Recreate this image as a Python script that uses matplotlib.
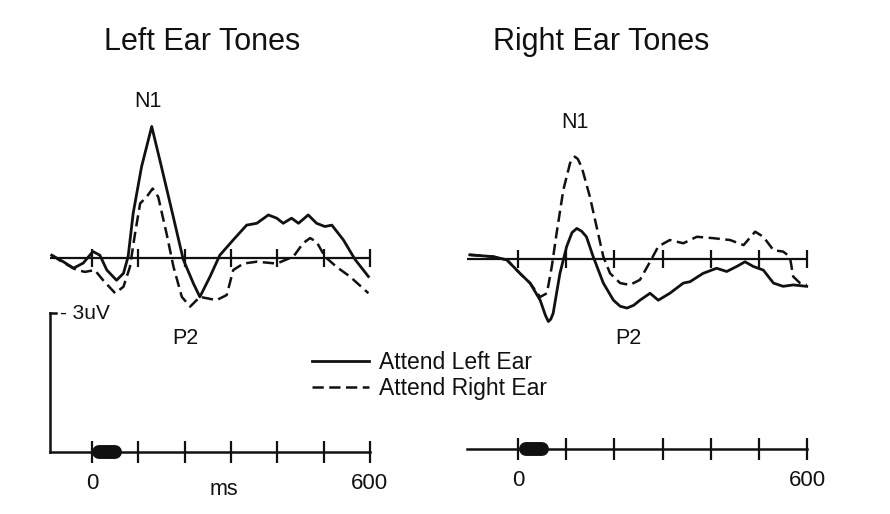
import numpy as np
import matplotlib
matplotlib.use("Agg")
import matplotlib.pyplot as plt

plt.rcParams['font.family'] = ['Liberation Sans', 'DejaVu Sans']

# waveforms: time in ms, amplitude in uV (negative up)
left_solid_t = [-87, -62, -40, -19, 2, 17, 32, 53, 68, 78, 89, 107, 129, 150, 172, 197, 219, 233,
                255, 276, 305, 334, 356, 381, 399, 413, 431, 446, 467, 485, 503, 518, 543, 568, 597]
left_solid_v = [-0.06, 0.08, 0.22, 0.11, -0.14, -0.06, 0.26, 0.48, 0.33, -0.03, -0.97, -1.97, -2.84,
                -1.97, -1.04, 0.03, 0.55, 0.84, 0.40, -0.06, -0.39, -0.71, -0.75, -0.93, -0.86,
                -0.75, -0.86, -0.75, -0.93, -0.75, -0.68, -0.71, -0.39, 0.03, 0.40]

left_dash_t = [-87, -62, -33, -15, 6, 24, 50, 68, 82, 93, 104, 118, 131, 143, 161, 176, 194, 212,
               233, 269, 291, 305, 327, 356, 399, 435, 456, 471, 485, 503, 528, 557, 597]
left_dash_v = [-0.06, 0.10, 0.26, 0.30, 0.26, 0.48, 0.76, 0.62, 0.19, -0.53, -1.18, -1.32, -1.50,
               -1.32, -0.53, 0.19, 0.84, 1.05, 0.84, 0.91, 0.80, 0.26, 0.12, 0.08, 0.12, -0.03,
               -0.32, -0.43, -0.35, -0.03, 0.19, 0.40, 0.76]

right_solid_t = [-100, -51, -23, 4, 25, 46, 57, 63, 68, 73, 87, 101, 112, 122, 132, 142, 156, 177,
                 198, 212, 226, 240, 253, 274, 291, 315, 343, 357, 384, 412, 433, 454, 471, 488,
                 509, 530, 550, 571, 599]
right_solid_v = [-0.09, -0.05, 0.02, 0.31, 0.52, 0.89, 1.22, 1.35, 1.30, 1.17, 0.31, -0.27, -0.57,
                 -0.66, -0.60, -0.48, -0.05, 0.52, 0.89, 1.02, 1.06, 1.00, 0.89, 0.74, 0.89, 0.74,
                 0.52, 0.49, 0.31, 0.20, 0.27, 0.16, 0.06, 0.16, 0.24, 0.52, 0.59, 0.56, 0.59]

right_dash_t = [-100, -51, -23, 4, 25, 46, 60, 70, 80, 94, 108, 113, 118, 124, 132, 149, 163, 177,
                191, 212, 232, 253, 274, 291, 315, 343, 371, 405, 440, 468, 492, 509, 530, 550,
                564, 571, 585, 599]
right_dash_v = [-0.09, -0.05, 0.02, 0.31, 0.52, 0.82, 0.74, 0.17, -0.55, -1.49, -2.07, -2.17, -2.21,
                -2.16, -1.99, -1.35, -0.70, -0.05, 0.31, 0.52, 0.56, 0.45, 0.06, -0.27, -0.41,
                -0.34, -0.48, -0.45, -0.41, -0.30, -0.59, -0.48, -0.19, -0.16, -0.05, 0.38, 0.52,
                0.56]

time_ticks = [0, 100, 200, 300, 400, 500, 600]
tick_labels = ['0', '', '', '', '', '', '600']

ink = '#111111'
W, H = 890, 514
fig = plt.figure(figsize=(W / 100, H / 100), dpi=100)


def make_axes(x0_px, px_per_ms, base_px, xlim, ylim=(4.7, -3.5), px_per_uv=46.3):
    left = x0_px + xlim[0] * px_per_ms
    width = (xlim[1] - xlim[0]) * px_per_ms
    top = base_px + ylim[1] * px_per_uv
    height = (ylim[0] - ylim[1]) * px_per_uv
    ax = fig.add_axes([left / W, 1 - (top + height) / H, width / W, height / H])
    ax.set_xlim(*xlim)
    ax.set_ylim(*ylim)
    ax.patch.set_alpha(0)
    for s in ['top', 'right', 'left']:
        ax.spines[s].set_visible(False)
    return ax


def draw_panel(ax, solid_t, solid_v, dash_t, dash_v, axis_uv, start_ms):
    ax.hlines(0, start_ms, 600, color=ink, lw=1.6)
    ax.plot(time_ticks, np.zeros(len(time_ticks)), '|', color=ink, ms=13, mew=1.6)
    ax.plot(solid_t, solid_v, color=ink, lw=2.0, solid_joinstyle='round', label='Attend Left Ear')
    ax.plot(dash_t, dash_v, color=ink, lw=1.8, dashes=(4.5, 2.2), label='Attend Right Ear')
    # time axis with stimulus marker
    ax.spines['bottom'].set_position(('data', axis_uv))
    ax.spines['bottom'].set_bounds(start_ms, 600)
    ax.spines['bottom'].set_linewidth(1.8)
    ax.spines['bottom'].set_color(ink)
    ax.set_xticks(time_ticks)
    ax.set_xticklabels(tick_labels, fontsize=16, color=ink)
    ax.tick_params(axis='x', direction='inout', length=16, width=1.6, color=ink, pad=7)
    ax.plot([16, 49], [axis_uv, axis_uv], color=ink, lw=10, solid_capstyle='round')
    ax.set_yticks([])


# left panel
axl = make_axes(92, 0.463, 258, (-100, 620))
draw_panel(axl, left_solid_t, left_solid_v, left_dash_t, left_dash_v, 4.19, -90)
axl.spines['left'].set_visible(True)
axl.spines['left'].set_position(('data', -90))
axl.spines['left'].set_bounds(1.19, 4.19)
axl.spines['left'].set_linewidth(1.8)
axl.spines['left'].set_color(ink)
axl.plot([-90, -78], [1.19, 1.19], color=ink, lw=1.8)
axl.text(-69, 1.19, '- 3uV', fontsize=15, color=ink, va='center', ha='left')
axl.text(285, 5.01, 'ms', fontsize=15.5, color=ink, va='center', ha='center', clip_on=False)
axl.text(121, -3.37, 'N1', fontsize=15.5, color=ink, va='center', ha='center', clip_on=False)
axl.text(201, 1.73, 'P2', fontsize=15.5, color=ink, va='center', ha='center')

# right panel
axr = make_axes(518, 0.482, 259, (-110, 620))
draw_panel(axr, right_solid_t, right_solid_v, right_dash_t, right_dash_v, 4.10, -106)
axr.text(118, -2.94, 'N1', fontsize=15.5, color=ink, va='center', ha='center')
axr.text(228, 1.71, 'P2', fontsize=15.5, color=ink, va='center', ha='center')

fig.text(202 / W, 1 - 42 / H, 'Left Ear Tones', fontsize=22, color=ink, ha='center', va='center')
fig.text(601 / W, 1 - 42 / H, 'Right Ear Tones', fontsize=22, color=ink, ha='center', va='center')

handles, labels = axl.get_legend_handles_labels()
fig.legend(handles, labels, loc='upper left', bbox_to_anchor=(303 / W, 1 - 342 / H),
           frameon=False, fontsize=16.5, handlelength=2.5, handletextpad=0.4,
           labelspacing=0.12, borderaxespad=0, labelcolor=ink)

fig.savefig('out.png', dpi=100)
